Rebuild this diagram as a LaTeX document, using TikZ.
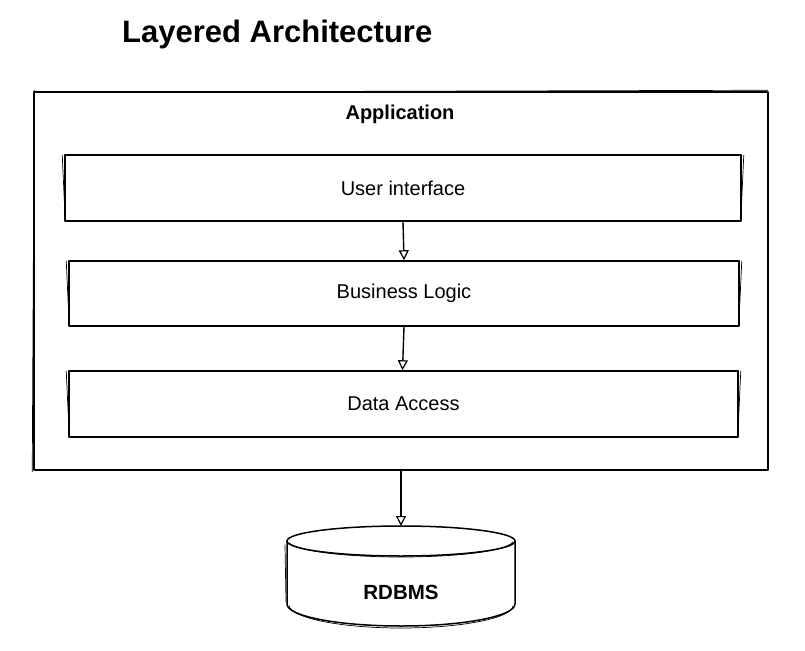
\documentclass[tikz,border=0pt]{standalone}
\usepackage{fontspec}
\setmainfont{Liberation Sans}
\usetikzlibrary{arrows.meta}
\begin{document}
\begin{tikzpicture}[x=1pt,y=-1pt,
  ink/.style={draw=black,line width=1.5pt,line join=round,line cap=round},
  layer/.style={ink,rectangle,inner sep=0pt,font=\fontsize{20}{22}\selectfont},
  retrace/.style={draw=black,line width=0.7pt,line cap=round},
  flow/.style={draw=black,line width=1.4pt,-{Triangle[open,length=10pt,width=10pt,line width=1.2pt]}},
  lbl/.style={inner sep=0pt,font=\fontsize{20}{22}\selectfont\bfseries}]
\useasboundingbox (0,0) rectangle (805,650);

% title
\node[anchor=west,inner sep=0pt,font=\fontsize{31}{34}\selectfont\bfseries] (title) at (122,34) {Layered Architecture};

% application frame
\node[layer,minimum width=734pt,minimum height=378pt] (app) at (401,281) {};
\draw[retrace] ([shift={(1,1)}]app.north west) -- ([shift={(-1,-1)}]app.north east);
\draw[retrace] ([shift={(-1,1)}]app.south west) -- ([shift={(1,-1)}]app.north west);
\node[lbl] (applbl) at (400,114) {Application};

% layers
\node[layer,minimum width=676pt,minimum height=66pt] (ui) at (403,188) {User interface};
\node[layer,minimum width=670pt,minimum height=65pt] (bl) at (404,293.5) {Business Logic};
\node[layer,minimum width=669pt,minimum height=66pt] (da) at (403.5,404) {Data Access};

% second pencil strokes on the layers
\foreach \n in {ui,bl,da}{
  \draw[retrace] ([shift={(2,1)}]\n.north east) -- ([shift={(-1,-1)}]\n.south east);
  \draw[retrace] ([shift={(1,-1)}]\n.south west) -- ([shift={(-2,1)}]\n.north west);
  \draw[retrace] ([shift={(0,1)}]\n.north west) -- ([shift={(0,0.5)}]\n.north east);
}

% database
\node[inner sep=0pt,minimum width=228pt,minimum height=102pt] (db) at (401,577) {};
\draw[ink,fill=white] (287,541) -- (287,604)
  .. controls (287,616.2) and (338,626) .. (401,626)
  .. controls (464,626) and (515,616.2) .. (515,604) -- (515,541);
\draw[ink,fill=white] (401,541) ellipse [x radius=114, y radius=15];
\draw[retrace] (289,543) .. controls (300,552) and (350,557) .. (401,557) .. controls (452,557) and (505,552) .. (513,542);
\draw[retrace] (289,606) .. controls (292,618) and (340,628) .. (401,628) .. controls (462,628) and (512,618) .. (513,606);
\draw[retrace] (285,545) -- (286,602);
\node[lbl,font=\fontsize{20.5}{23}\selectfont\bfseries] (dblbl) at (401,592) {RDBMS};
\coordinate (dbtop) at (401,526);

% connectors
\draw[flow] (ui.south) -- (bl.north);
\draw[flow] (bl.south) -- ([xshift=-1pt]da.north);
\draw[flow] (app.south) -- (dbtop);
\end{tikzpicture}
\end{document}
